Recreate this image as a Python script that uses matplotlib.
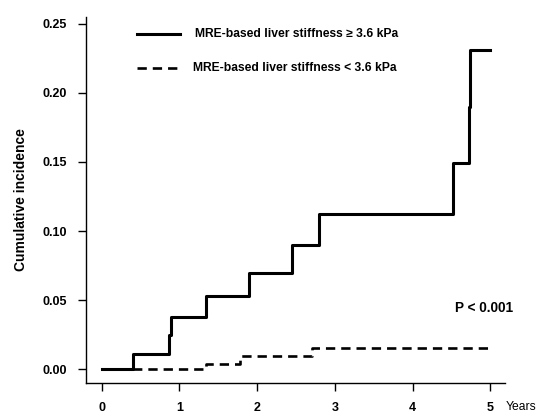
import matplotlib
matplotlib.use('Agg')
import matplotlib.pyplot as plt
from matplotlib.lines import Line2D

plt.rcParams['font.family'] = ['Liberation Sans', 'DejaVu Sans']
plt.rcParams['lines.scale_dashes'] = False

# Kaplan-Meier style step curves (time in years, cumulative incidence)
waktu_tinggi = [0, 0.40, 0.86, 0.89, 1.34, 1.90, 2.45, 2.80, 4.52, 4.72, 4.74, 5.0]
insiden_tinggi = [0, 0.011, 0.025, 0.038, 0.053, 0.070, 0.090, 0.112, 0.149, 0.190, 0.231, 0.231]

waktu_rendah = [0, 1.34, 1.78, 2.71, 5.0]
insiden_rendah = [0, 0.004, 0.0095, 0.0155, 0.0155]

label_tinggi = 'MRE-based liver stiffness \u2265 3.6 kPa'
label_rendah = 'MRE-based liver stiffness < 3.6 kPa'
x_ticks = [0, 1, 2, 3, 4, 5]
y_ticks = [0.00, 0.05, 0.10, 0.15, 0.20, 0.25]

fig = plt.figure(figsize=(5.39, 4.16), dpi=100)
ax = fig.add_axes([0.1596, 0.0793, 0.7774, 0.8798])

ax.step(waktu_tinggi, insiden_tinggi, where='post', color='black', linewidth=2.2)
ax.step(waktu_rendah, insiden_rendah, where='post', color='black', linewidth=1.9,
        linestyle=(0, (6.7, 4.3)))

ax.set_xlim(-0.202, 5.19)
ax.set_ylim(-0.0098, 0.2547)
ax.set_xticks(x_ticks)
ax.set_xticklabels([str(t) for t in x_ticks], fontsize=9, fontweight='bold')
ax.set_yticks(y_ticks)
ax.set_yticklabels(['%.2f' % t for t in y_ticks], fontsize=9, fontweight='bold')
ax.tick_params(direction='out', length=5.5, width=1)
ax.tick_params(axis='y', pad=8.5)
ax.tick_params(axis='x', pad=8.5)

for s in ['top', 'right']:
    ax.spines[s].set_visible(False)
for s in ['left', 'bottom']:
    ax.spines[s].set_linewidth(1)

ax.set_ylabel('Cumulative incidence', fontsize=10, fontweight='bold', labelpad=10)

# legenda manual
fig.add_artist(Line2D([136.7 / 539, 180 / 539], [1 - 34.3 / 416, 1 - 34.3 / 416],
                      color='black', linewidth=2.2))
fig.add_artist(Line2D([137 / 539, 182 / 539], [1 - 67.7 / 416, 1 - 67.7 / 416],
                      color='black', linewidth=1.9, linestyle=(0, (6.7, 4.3))))
fig.text(195 / 539, 1 - 34.3 / 416, label_tinggi, fontsize=8.7, fontweight='bold',
         va='center', ha='left')
fig.text(193 / 539, 1 - 67.7 / 416, label_rendah, fontsize=8.7, fontweight='bold',
         va='center', ha='left')

fig.text(455 / 539, 1 - 308 / 416, 'P < 0.001', fontsize=9.8, fontweight='bold',
         va='center', ha='left')
fig.text(506 / 539, 1 - 406.5 / 416, 'Years', fontsize=8.7, va='center', ha='left')

fig.savefig('out.png', dpi=100)
